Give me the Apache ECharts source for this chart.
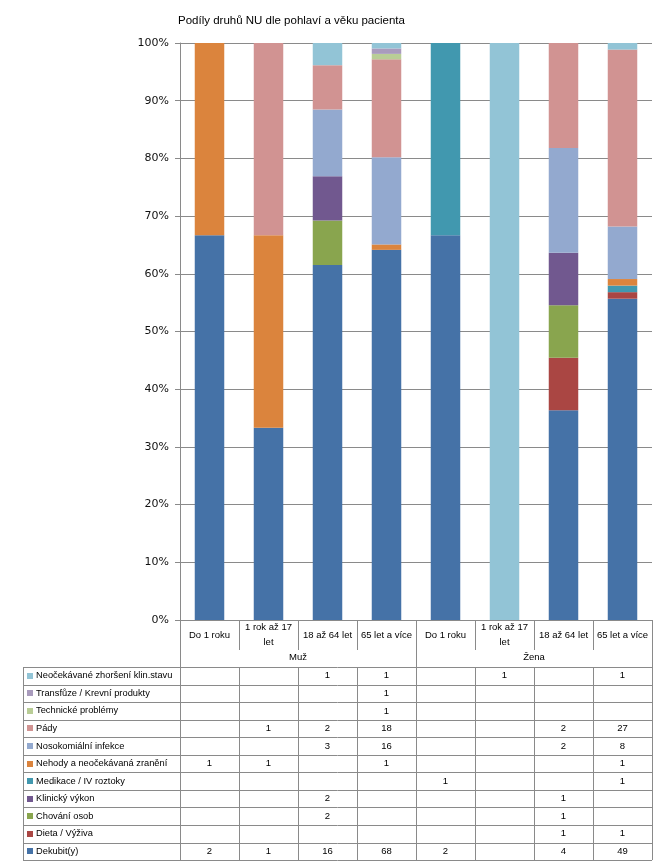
<!DOCTYPE html>
<html><head><meta charset="utf-8">
<script src="https://cdn.jsdelivr.net/npm/echarts@6/dist/echarts.min.js"></script>
<style>html,body{margin:0;padding:0;background:#fff}#c{width:667px;height:866px}</style>
</head><body><div id="c"></div>
<script>
// ---- data ----
const categories = ['Do 1 roku', '1 rok až 17\nlet', '18 až 64 let', '65 let a více', 'Do 1 roku', '1 rok až 17\nlet', '18 až 64 let', '65 let a více'];
const groups = ['Muž', 'Žena'];
const yTickLabels = ['0%','10%','20%','30%','40%','50%','60%','70%','80%','90%','100%'];

// series, bottom of stack first
const seriesNames = ['Dekubit(y)', 'Dieta / Výživa', 'Chování osob', 'Klinický výkon', 'Medikace / IV roztoky',
  'Nehody a neočekávaná zranění', 'Nosokomiální infekce', 'Pády', 'Technické problémy',
  'Transfůze / Krevní produkty', 'Neočekávané zhoršení klin.stavu'];
const dekubit      = [2, 1, 16, 68, 2, null, 4, 49];
const dietaVyziva  = [null, null, null, null, null, null, 1, 1];
const chovaniOsob  = [null, null, 2, null, null, null, 1, null];
const klinickyVykon= [null, null, 2, null, null, null, 1, null];
const medikace     = [null, null, null, null, 1, null, null, 1];
const nehody       = [1, 1, null, 1, null, null, null, 1];
const nosokomialni = [null, null, 3, 16, null, null, 2, 8];
const pady         = [null, 1, 2, 18, null, null, 2, 27];
const technicke    = [null, null, null, 1, null, null, null, null];
const transfuze    = [null, null, null, 1, null, null, null, null];
const neocekavane  = [null, null, 1, 1, null, 1, null, 1];
const seriesCounts = [dekubit, dietaVyziva, chovaniOsob, klinickyVykon, medikace, nehody, nosokomialni, pady, technicke, transfuze, neocekavane];
const seriesColors = ['#4572A7', '#AA4643', '#89A54E', '#71588F', '#4198AF', '#DB843D', '#93A9CF', '#D19392', '#B9CD96', '#A99BBD', '#92C4D6'];

// ---- layout ----
const GRID = {left: 180, right: 15, top: 43, bottom: 246};
const TABLE_TOP = 667, ROW_H = 17.55, TABLE_LEFT = 23;
const LINE = '#8a8a8a';
const FONT = 'Liberation Sans';

const totals = categories.map((c, i) => seriesCounts.reduce((s, arr) => s + (arr[i] || 0), 0));

const chart = echarts.init(document.getElementById('c'), null, {renderer: 'canvas'});
const option = {
  animation: false,
  backgroundColor: '#fff',
  title: {text: 'Podíly druhů NU dle pohlaví a věku pacienta', left: 173, top: 10,
    textStyle: {fontFamily: FONT, fontSize: 11.5, fontWeight: 'normal', color: '#000'}},
  grid: GRID,
  xAxis: [{
    type: 'category', data: categories, position: 'bottom',
    axisLine: {show: true, lineStyle: {color: LINE, width: 1}},
    axisTick: {show: true, length: 30, lineStyle: {color: LINE}},
    axisLabel: {interval: 0, margin: 15, verticalAlign: 'middle', lineHeight: 15,
      fontFamily: FONT, fontSize: 9.5, color: '#000'}
  }, {
    type: 'category', data: groups, position: 'bottom',
    axisLine: {show: false},
    axisTick: {show: true, length: 47, lineStyle: {color: LINE}},
    axisLabel: {interval: 0, margin: 37, verticalAlign: 'middle', fontFamily: FONT, fontSize: 9.5, color: '#000'}
  }],
  yAxis: {
    type: 'value', min: 0, max: 100, interval: 10,
    axisLine: {show: true, lineStyle: {color: LINE}},
    axisTick: {show: true, length: 5, lineStyle: {color: LINE}},
    axisLabel: {margin: 11, fontFamily: 'DejaVu Sans', fontSize: 11, color: '#111',
      formatter: v => yTickLabels[Math.round(v / 10)]},
    splitLine: {show: true, lineStyle: {color: LINE, width: 1}}
  },
  series: seriesNames.map((name, k) => ({
    name, type: 'bar', stack: 'all', barWidth: '50%', xAxisIndex: 0,
    itemStyle: {color: seriesColors[k]},
    data: seriesCounts[k].map((v, i) => v ? v / totals[i] * 100 : 0)
  }))
};
chart.setOption(option);

// ---- data table below the chart ----
const c0 = chart.convertToPixel({xAxisIndex: 0}, 0);
const c1 = chart.convertToPixel({xAxisIndex: 0}, 1);
const band = c1 - c0;
const colLeft = i => c0 - band / 2 + i * band;
const nRows = seriesNames.length;
const tableRight = colLeft(categories.length);
const tableBottom = TABLE_TOP + nRows * ROW_H;
const els = [];
for (let r = 0; r <= nRows; r++) {
  const y = Math.round(TABLE_TOP + r * ROW_H) + 0.5;
  els.push({type: 'line', shape: {x1: TABLE_LEFT, y1: y, x2: tableRight, y2: y}, style: {stroke: LINE, lineWidth: 1}});
}
const vxs = [TABLE_LEFT];
for (let i = 0; i <= categories.length; i++) vxs.push(colLeft(i));
vxs.forEach(x => {
  const xx = Math.round(x) + 0.5;
  els.push({type: 'line', shape: {x1: xx, y1: TABLE_TOP, x2: xx, y2: tableBottom}, style: {stroke: LINE, lineWidth: 1}});
});
for (let r = 0; r < nRows; r++) {
  const k = nRows - 1 - r;
  const yc = TABLE_TOP + r * ROW_H + ROW_H / 2;
  els.push({type: 'rect', shape: {x: 27, y: Math.round(yc) - 3, width: 6, height: 6}, style: {fill: seriesColors[k]}});
  els.push({type: 'text', style: {x: 36, y: yc, text: seriesNames[k], fontFamily: FONT, fontSize: 9.3, fill: '#000', verticalAlign: 'middle', textAlign: 'left'}});
  seriesCounts[k].forEach((v, i) => {
    if (v == null) return;
    els.push({type: 'text', style: {x: colLeft(i) + band / 2, y: yc, text: String(v), fontFamily: FONT, fontSize: 9.5, fill: '#000', verticalAlign: 'middle', textAlign: 'center'}});
  });
}
chart.setOption({graphic: {elements: els}});
</script></body></html>
